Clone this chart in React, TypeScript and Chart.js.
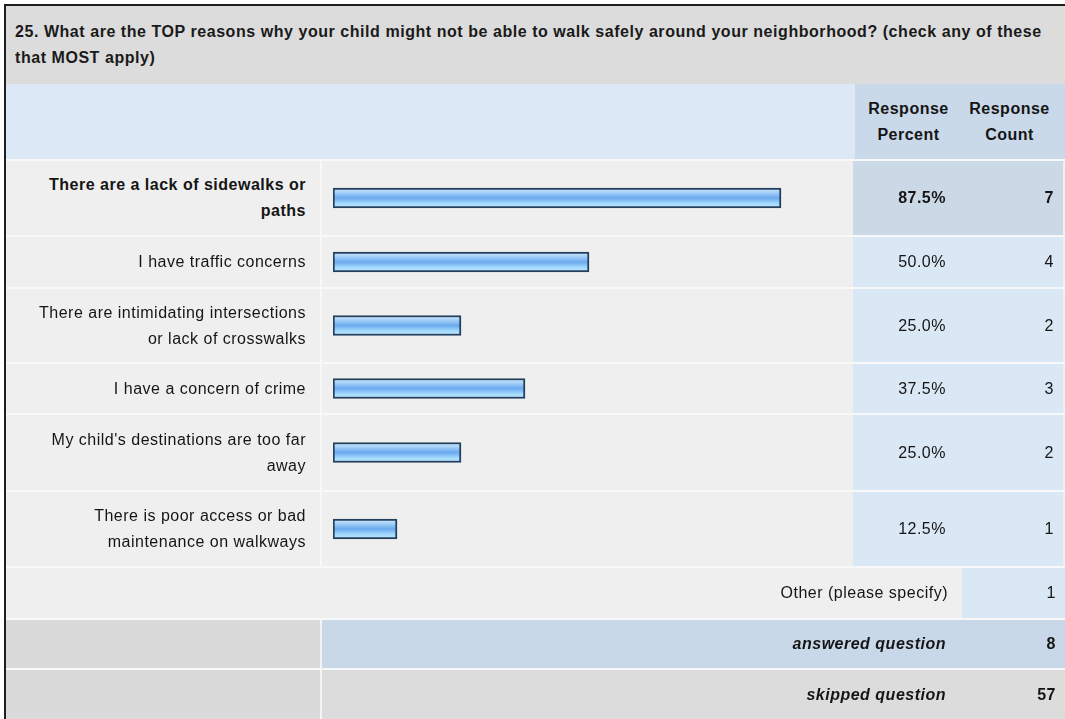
import React, { useEffect, useRef } from "react";
import { Chart, registerables } from "chart.js";

Chart.register(...registerables);

const questionTitle =
  "25. What are the TOP reasons why your child might not be able to walk safely around your neighborhood? (check any of these that MOST apply)";
const categories = [
  "There are a lack of sidewalks or paths",
  "I have traffic concerns",
  "There are intimidating intersections or lack of crosswalks",
  "I have a concern of crime",
  "My child's destinations are too far away",
  "There is poor access or bad maintenance on walkways",
];
const percents = [87.5, 50.0, 25.0, 37.5, 25.0, 12.5];
const counts = [7, 4, 2, 3, 2, 1];
const headerLabels = ["Response Percent", "Response Count"];
const otherLabel = "Other (please specify)";
const otherCount = 1;
const answeredLabel = "answered question";
const answeredCount = 8;
const skippedLabel = "skipped question";
const skippedCount = 57;

// layout constants
const COLS = [316, 533, 107, 103];
const ROW_H = [76, 52, 75, 51, 77, 76];
const FONT = "'Liberation Sans', Arial, Helvetica, sans-serif";
const SEP = "2px solid #f8f8f8";

function BarCell({ value, label, height }: { value: number; label: string; height: number }) {
  const ref = useRef<HTMLCanvasElement | null>(null);
  useEffect(() => {
    if (!ref.current) return;
    const chart = new Chart(ref.current, {
      type: "bar",
      data: {
        labels: [label],
        datasets: [
          {
            data: [value],
            barThickness: 20,
            borderWidth: 2,
            borderColor: "#24405f",
            borderSkipped: false,
            backgroundColor: (c: any) => {
              const { ctx, chartArea } = c.chart;
              if (!chartArea) return "#7db8f2";
              const yc = (chartArea.top + chartArea.bottom) / 2;
              const g = ctx.createLinearGradient(0, yc - 10, 0, yc + 10);
              g.addColorStop(0, "#d4ebfd");
              g.addColorStop(0.25, "#9fcdf7");
              g.addColorStop(0.5, "#6aa9ee");
              g.addColorStop(0.75, "#9fd6fb");
              g.addColorStop(1, "#c4ecff");
              return g;
            },
          },
        ],
      },
      options: {
        animation: false,
        responsive: false,
        indexAxis: "y",
        layout: { padding: { left: 11, right: 10, top: 0, bottom: 0 } },
        scales: {
          x: { min: 0, max: 100, display: false },
          y: { display: false },
        },
        plugins: { legend: { display: false }, tooltip: { enabled: false } },
      },
    });
    return () => chart.destroy();
  }, [value, label, height]);
  return <canvas ref={ref} width={COLS[1]} height={height} style={{ display: "block" }} />;
}

const cellBase: React.CSSProperties = {
  boxSizing: "border-box",
  display: "flex",
  alignItems: "center",
  height: "100%",
};

export default function App() {
  useEffect(() => {
    document.documentElement.style.overflow = "hidden";
    document.body.style.overflow = "hidden";
  }, []);

  const rowStyle = (h: number): React.CSSProperties => ({
    display: "flex",
    height: h,
    boxSizing: "border-box",
    borderBottom: SEP,
  });

  return (
    <div
      style={{
        position: "absolute",
        left: 4,
        top: 4,
        width: 1061,
        borderLeft: "2px solid #1e1e1e",
        borderTop: "2px solid #1e1e1e",
        fontFamily: FONT,
        fontSize: 16,
        letterSpacing: 0.5,
        lineHeight: "26px",
        color: "#151515",
        background: "#efefef",
      }}
    >
      {/* title */}
      <div
        style={{
          height: 78,
          boxSizing: "border-box",
          background: "#dcdcdc",
          padding: "13px 9px 0 9px",
          fontWeight: "bold",
          letterSpacing: 0.55,
          color: "#1a1a1a",
        }}
      >
        {questionTitle}
      </div>
      {/* header */}
      <div style={{ display: "flex", height: 77, boxSizing: "border-box", borderBottom: SEP }}>
        <div style={{ width: COLS[0] + COLS[1], background: "#dce8f6" }} />
        <div
          style={{
            ...cellBase,
            width: COLS[2],
            background: "#cad9ea",
            justifyContent: "center",
            textAlign: "center",
            fontWeight: "bold",
          }}
        >
          {headerLabels[0].split(" ").map((w, i) => (
            <React.Fragment key={i}>
              {i > 0 && <br />}
              {w}
            </React.Fragment>
          ))}
        </div>
        <div
          style={{
            ...cellBase,
            width: COLS[3],
            background: "#cad9ea",
            justifyContent: "center",
            textAlign: "center",
            fontWeight: "bold",
            paddingRight: 8,
          }}
        >
          {headerLabels[1].split(" ").map((w, i) => (
            <React.Fragment key={i}>
              {i > 0 && <br />}
              {w}
            </React.Fragment>
          ))}
        </div>
      </div>
      {/* data rows */}
      {categories.map((cat, i) => {
        const top = i === 0;
        const h = ROW_H[i];
        return (
          <div key={cat} style={rowStyle(h)}>
            <div
              style={{
                ...cellBase,
                width: COLS[0],
                justifyContent: "flex-end",
                textAlign: "right",
                padding: "0 14px 0 18px",
                borderRight: "2px solid #f8f8f8",
                fontWeight: top ? "bold" : "normal",
              }}
            >
              <span>{cat}</span>
            </div>
            <div style={{ ...cellBase, width: COLS[1] - 2 }}>
              <BarCell value={percents[i]} label={cat} height={h - 2} />
            </div>
            <div
              style={{
                ...cellBase,
                width: COLS[2],
                justifyContent: "flex-end",
                paddingRight: 14,
                background: top ? "#cbd9e7" : "#dae7f5",
                fontWeight: top ? "bold" : "normal",
              }}
            >
              {percents[i].toFixed(1) + "%"}
            </div>
            <div
              style={{
                ...cellBase,
                width: COLS[3],
                justifyContent: "flex-end",
                paddingRight: 9,
                background: top ? "#cbd9e7" : "#dae7f5",
                fontWeight: top ? "bold" : "normal",
              }}
            >
              {counts[i]}
            </div>
          </div>
        );
      })}
      {/* other */}
      <div style={rowStyle(52)}>
        <div
          style={{
            ...cellBase,
            width: COLS[0] + COLS[1] + COLS[2],
            justifyContent: "flex-end",
            paddingRight: 14,
          }}
        >
          {otherLabel}
        </div>
        <div
          style={{ ...cellBase, width: COLS[3], justifyContent: "flex-end", paddingRight: 9, background: "#dae7f5" }}
        >
          {otherCount}
        </div>
      </div>
      {/* answered */}
      <div style={rowStyle(50)}>
        <div style={{ width: COLS[0], background: "#dadada", borderRight: "2px solid #f4f4f4", boxSizing: "border-box" }} />
        <div
          style={{
            ...cellBase,
            width: COLS[1] + COLS[2],
            justifyContent: "flex-end",
            paddingRight: 16,
            background: "#c9d8e8",
            fontWeight: "bold",
            fontStyle: "italic",
          }}
        >
          {answeredLabel}
        </div>
        <div
          style={{
            ...cellBase,
            width: COLS[3],
            justifyContent: "flex-end",
            paddingRight: 9,
            background: "#c9d8e8",
            fontWeight: "bold",
          }}
        >
          {answeredCount}
        </div>
      </div>
      {/* skipped */}
      <div style={{ display: "flex", height: 49 }}>
        <div style={{ width: COLS[0], background: "#dadada", borderRight: "2px solid #f4f4f4", boxSizing: "border-box" }} />
        <div
          style={{
            ...cellBase,
            width: COLS[1] + COLS[2],
            justifyContent: "flex-end",
            paddingRight: 16,
            background: "#dcdcdc",
            fontWeight: "bold",
            fontStyle: "italic",
          }}
        >
          {skippedLabel}
        </div>
        <div
          style={{
            ...cellBase,
            width: COLS[3],
            justifyContent: "flex-end",
            paddingRight: 9,
            background: "#dcdcdc",
            fontWeight: "bold",
          }}
        >
          {skippedCount}
        </div>
      </div>
    </div>
  );
}
